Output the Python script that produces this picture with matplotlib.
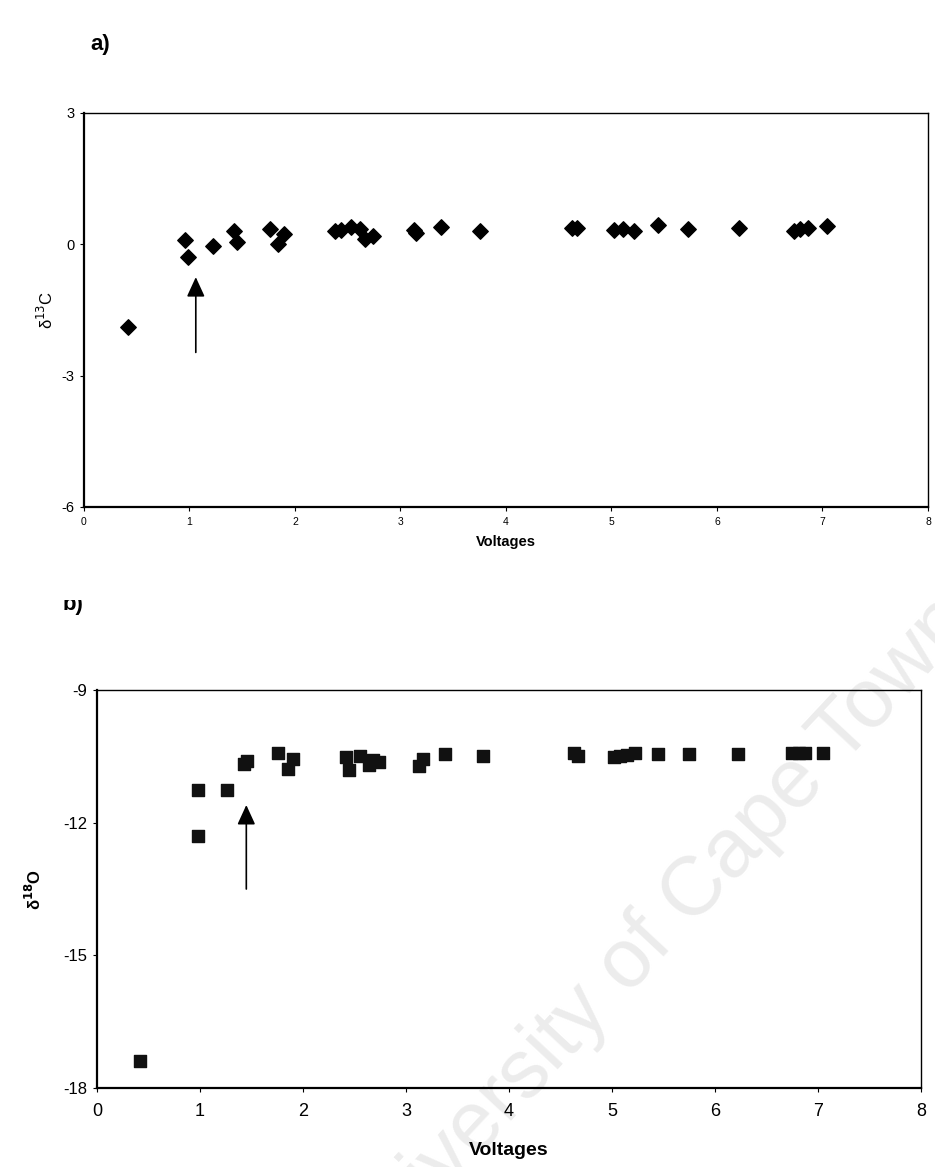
"""Two-panel scatter: delta 13C and delta 18O against voltage."""
import matplotlib
matplotlib.use("Agg")
import matplotlib.pyplot as plt
from matplotlib.patches import Rectangle

# panel a) delta 13C
volt_c = [0.42, 0.96, 0.99, 1.22, 1.42, 1.45, 1.76, 1.84, 1.90, 2.38, 2.44, 2.53,
          2.62, 2.66, 2.74, 3.13, 3.15, 3.38, 3.75, 4.63, 4.67, 5.02, 5.11, 5.21,
          5.44, 5.73, 6.21, 6.73, 6.79, 6.86, 7.04]
d13c = [-1.9, 0.09, -0.3, -0.04, 0.3, 0.05, 0.34, 0.0, 0.23, 0.3, 0.32, 0.39,
        0.34, 0.13, 0.18, 0.33, 0.26, 0.39, 0.3, 0.38, 0.38, 0.33, 0.34, 0.3,
        0.44, 0.34, 0.38, 0.3, 0.34, 0.38, 0.42]

# panel b) delta 18O
volt_o = [0.42, 0.98, 1.26, 0.98, 1.43, 1.46, 1.76, 1.85, 1.90, 2.42, 2.45, 2.55,
          2.64, 2.68, 2.74, 3.13, 3.17, 3.38, 3.75, 4.63, 4.67, 5.02, 5.08, 5.15,
          5.22, 5.45, 5.75, 6.22, 6.75, 6.82, 6.87, 7.05]
d18o = [-17.4, -11.26, -11.26, -12.3, -10.68, -10.6, -10.42, -10.78, -10.55, -10.52,
        -10.8, -10.5, -10.7, -10.58, -10.62, -10.72, -10.56, -10.45, -10.5, -10.42,
        -10.5, -10.52, -10.5, -10.48, -10.42, -10.45, -10.45, -10.45, -10.42, -10.42,
        -10.42, -10.42]

# arrows (x, tail y, tip y)
arrow_a = (1.06, -2.47, -0.75)
arrow_b = (1.45, -13.5, -11.6)

NARROW = ["Liberation Sans Narrow", "Liberation Sans", "DejaVu Sans"]
ARIAL = ["Liberation Sans", "DejaVu Sans"]

plt.rcParams["axes.unicode_minus"] = False


def style_axes(ax):
    ax.set_facecolor("none")
    for side in ["left", "bottom", "top", "right"]:
        ax.spines[side].set_color("black")
    ax.spines["left"].set_linewidth(1.6)
    ax.spines["bottom"].set_linewidth(1.6)
    ax.spines["top"].set_linewidth(1.0)
    ax.spines["right"].set_linewidth(1.0)
    ax.tick_params(direction="out", length=3, width=0.8, pad=4)


def main() -> None:
    fig = plt.figure(figsize=(9.35, 11.67), dpi=100)

    # ---- a)
    ax1 = fig.add_axes([0.0898, 0.5656, 0.9027, 0.3376])
    ax1.scatter(volt_c, d13c, marker="D", s=62, color="black", zorder=3)
    x, y0, y1 = arrow_a
    ax1.annotate("", xy=(x, y1), xytext=(x, y0),
                 arrowprops=dict(arrowstyle="-|>,head_width=0.55,head_length=1.2",
                                 color="black", lw=1.2, shrinkA=0, shrinkB=0))
    ax1.set_xlim(0, 8)
    ax1.set_ylim(-6, 3)
    ax1.set_xticks(range(0, 9))
    ax1.set_yticks([3, 0, -3, -6])
    style_axes(ax1)
    for lab in ax1.get_xticklabels():
        lab.set_family(ARIAL)
        lab.set_fontsize(7.5)
    for lab in ax1.get_yticklabels():
        lab.set_family(ARIAL)
        lab.set_fontsize(10.5)
    ax1.set_xlabel("Voltages", family=ARIAL, fontsize=10.5, fontweight="bold", labelpad=6)
    ax1.set_ylabel("δ$^{13}$C", family=ARIAL, fontsize=12, labelpad=4)

    # ---- b)
    ax2 = fig.add_axes([0.1037, 0.0677, 0.8813, 0.3410])
    ax2.scatter(volt_o, d18o, marker="s", s=80, color="#111111", zorder=3)
    x, y0, y1 = arrow_b
    ax2.annotate("", xy=(x, y1), xytext=(x, y0),
                 arrowprops=dict(arrowstyle="-|>,head_width=0.55,head_length=1.2",
                                 color="black", lw=1.2, shrinkA=0, shrinkB=0))
    ax2.set_xlim(0, 8)
    ax2.set_ylim(-18, -9)
    ax2.set_xticks(range(0, 9))
    ax2.set_yticks([-9, -12, -15, -18])
    style_axes(ax2)
    for lab in ax2.get_xticklabels():
        lab.set_family(NARROW)
        lab.set_fontsize(13)
    for lab in ax2.get_yticklabels():
        lab.set_family(ARIAL)
        lab.set_fontsize(12)
    ax2.tick_params(axis="x", pad=8)
    ax2.set_xlabel("Voltages", family=NARROW, fontsize=14, fontweight="bold", labelpad=16)
    ax2.set_ylabel(r"δ$^{\mathbf{18}}$O", family=ARIAL, fontsize=12,
                   fontweight="bold", labelpad=14)

    # panel letters
    fig.text(0.107, 0.962, "a)", family=ARIAL, fontsize=16, fontweight="bold",
             ha="center", va="center")
    # "b)" is cut by the page edge in the original scan
    tb = fig.text(0.078, 0.4816, "b)", family=ARIAL, fontsize=16, fontweight="bold",
                  ha="center", va="center")
    clip = Rectangle((0, 0), 1, 0.4859, transform=fig.transFigure)
    tb.set_clip_path(clip)

    # watermark, kept behind the (transparent) axes
    fig.text(0.995, 0.5006, "University of Cape Town", family=ARIAL, fontsize=60,
             color="#ececec", rotation=47, ha="right", va="top",
             rotation_mode="anchor", zorder=-1)

    fig.savefig("out.png", dpi=100)
    plt.close(fig)


if __name__ == "__main__":
    main()
